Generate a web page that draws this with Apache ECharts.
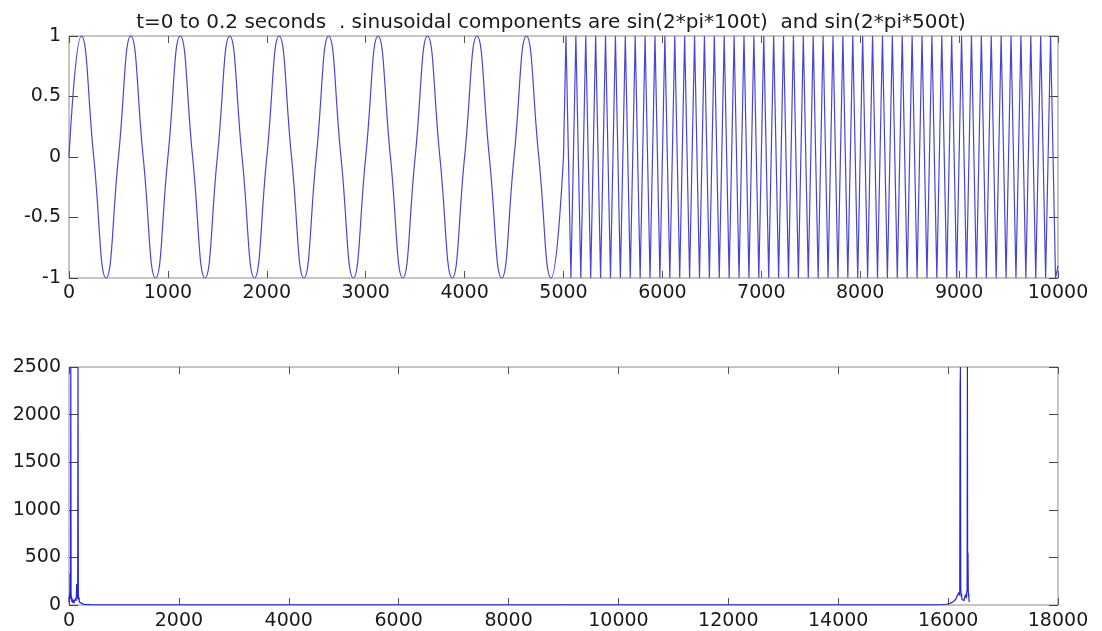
<!DOCTYPE html>
<html>
<head>
<meta charset="utf-8">
<script src="https://cdn.jsdelivr.net/npm/echarts@6/dist/echarts.min.js"></script>
<style>
html,body{margin:0;padding:0;background:#fff;}
#c{width:1102px;height:631px;}
</style>
</head>
<body>
<div id="c"></div>
<script>
const titleText = 't=0 to 0.2 seconds  . sinusoidal components are sin(2*pi*100t)  and sin(2*pi*500t)';

// Top plot: 100 Hz segment (samples 0..5000), extremes and zero crossings
const lowT = [0,125,250,375,500,625,750,875,1000,1125,1250,1375,1500,1625,1750,1875,2000,2125,2250,2375,
  2500,2625,2750,2875,3000,3125,3250,3375,3500,3625,3750,3875,4000,4125,4250,4375,4500,4625,4750,4875,5000];
const lowV = [0,1,0,-1, 0,1,0,-1, 0,1,0,-1, 0,1,0,-1, 0,1,0,-1,
  0,1,0,-1, 0,1,0,-1, 0,1,0,-1, 0,1,0,-1, 0,1,0,-1, 0];

// Top plot: 500 Hz segment (samples 5000..10000), peaks and troughs
const hiT = [5000,
  5025,5075,5125,5175,5225,5275,5325,5375,5425,5475,
  5525,5575,5625,5675,5725,5775,5825,5875,5925,5975,
  6025,6075,6125,6175,6225,6275,6325,6375,6425,6475,
  6525,6575,6625,6675,6725,6775,6825,6875,6925,6975,
  7025,7075,7125,7175,7225,7275,7325,7375,7425,7475,
  7525,7575,7625,7675,7725,7775,7825,7875,7925,7975,
  8025,8075,8125,8175,8225,8275,8325,8375,8425,8475,
  8525,8575,8625,8675,8725,8775,8825,8875,8925,8975,
  9025,9075,9125,9175,9225,9275,9325,9375,9425,9475,
  9525,9575,9625,9675,9725,9775,9825,9875,9925,9975,
  10000];
const hiV = [0,
  1,-1,1,-1,1,-1,1,-1,1,-1,
  1,-1,1,-1,1,-1,1,-1,1,-1,
  1,-1,1,-1,1,-1,1,-1,1,-1,
  1,-1,1,-1,1,-1,1,-1,1,-1,
  1,-1,1,-1,1,-1,1,-1,1,-1,
  1,-1,1,-1,1,-1,1,-1,1,-1,
  1,-1,1,-1,1,-1,1,-1,1,-1,
  1,-1,1,-1,1,-1,1,-1,1,-1,
  1,-1,1,-1,1,-1,1,-1,1,-1,
  1,-1,1,-1,1,-1,1,-1,1,-1,
  -0.9];

// Bottom plot: FFT magnitude (bins 0..16384)
const fftBins = [0,4,8,12,16,20,24,28,33,38,
  42,46,50,55,60,65,70,75,80,86,
  92,98,104,110,116,122,128,134,140,146,
  152,158,164,170,176,182,188,194,200,210,
  220,230,240,255,270,290,320,360,420,520,
  700,1000,2000,4000,6000,8000,10000,12000,14000,15000,
  15600,15800,15900,15960,16000,16040,16080,16110,16140,16160,
  16180,16196,16206,16212,16218,16224,16230,16236,16244,16252,
  16260,16270,16280,16290,16300,16310,16320,16330,16338,16346,
  16351,16356,16362,16368,16374,16380,16384];
const fftMag = [40,90,30,120,60,330,70,150,2500,140,
  60,90,35,70,30,60,25,55,20,50,
  20,45,25,55,30,70,40,110,220,90,
  120,60,2500,130,50,80,30,50,20,35,
  12,20,8,12,5,6,3,3,2,1,
  1,0.5,0.5,0.5,0.5,0.5,0.5,0.5,0.5,0.5,
  1,2,4,8,12,20,30,45,60,90,
  80,130,100,150,2270,2500,180,90,120,60,
  80,50,70,45,80,60,110,70,130,160,
  2500,140,550,90,120,60,30];

const topXTicks = {min:0, max:10000, interval:1000};
const topYTicks = {min:-1, max:1, interval:0.5};
const botXTicks = {min:0, max:18000, interval:2000};
const botYTicks = {min:0, max:2500, interval:500};

const FONT = 'DejaVu Sans';
const labelStyle = {color:'#1a1a1a', fontFamily:FONT, fontSize:19, formatter:(v)=>String(v)};
function baseAxis(gi, t, pos){
  return {type:'value', gridIndex:gi, min:t.min, max:t.max, interval:t.interval, position:pos,
    axisLine:{show:false, onZero:false}, splitLine:{show:false}};
}
function mainX(gi, t, margin){
  return Object.assign(baseAxis(gi, t, 'bottom'), {
    axisTick:{show:true, inside:true, length:7, lineStyle:{color:'#555'}},
    axisLabel:Object.assign({show:true, margin:margin}, labelStyle)});
}
function mirrorX(gi, t){
  return Object.assign(baseAxis(gi, t, 'top'), {
    axisTick:{show:true, inside:true, length:7, lineStyle:{color:'#555'}},
    axisLabel:{show:false}});
}
function mainY(gi, t){
  return Object.assign(baseAxis(gi, t, 'left'), {
    axisTick:{show:true, inside:true, length:9, lineStyle:{color:'#444'}},
    axisLabel:Object.assign({show:true, margin:8}, labelStyle)});
}
function mirrorY(gi, t){
  return Object.assign(baseAxis(gi, t, 'right'), {
    axisTick:{show:true, inside:true, length:9, lineStyle:{color:'#444'}},
    axisLabel:{show:false}});
}

const chart = echarts.init(document.getElementById('c'), null, {renderer:'canvas'});
chart.setOption({
  animation:false,
  backgroundColor:'#ffffff',
  title:{text:titleText, left:'center', top:8,
    textStyle:{fontFamily:FONT, fontSize:20, fontWeight:'normal', color:'#1a1a1a'}},
  grid:[
    {left:69, top:36, width:989, height:242, show:true, borderColor:'#8c8c8c', borderWidth:1, backgroundColor:'transparent'},
    {left:69, top:367, width:989, height:239, show:true, borderColor:'#8c8c8c', borderWidth:1, backgroundColor:'transparent'}
  ],
  xAxis:[mainX(0, topXTicks, 6), mirrorX(0, topXTicks), mainX(1, botXTicks, 7), mirrorX(1, botXTicks)],
  yAxis:[mainY(0, topYTicks), mirrorY(0, topYTicks), mainY(1, botYTicks), mirrorY(1, botYTicks)],
  series:[
    {type:'line', xAxisIndex:0, yAxisIndex:0, showSymbol:false, smooth:true,
      lineStyle:{color:'#4646d6', width:1.2}, data:lowT.map((t,i)=>[t, lowV[i]])},
    {type:'line', xAxisIndex:0, yAxisIndex:0, showSymbol:false,
      lineStyle:{color:'#4646d6', width:1.2}, data:hiT.map((t,i)=>[t, hiV[i]])},
    {type:'line', xAxisIndex:2, yAxisIndex:2, showSymbol:false,
      lineStyle:{color:'#2424e0', width:1.2}, data:fftBins.map((b,i)=>[b, fftMag[i]])}
  ]
});
</script>
</body>
</html>
